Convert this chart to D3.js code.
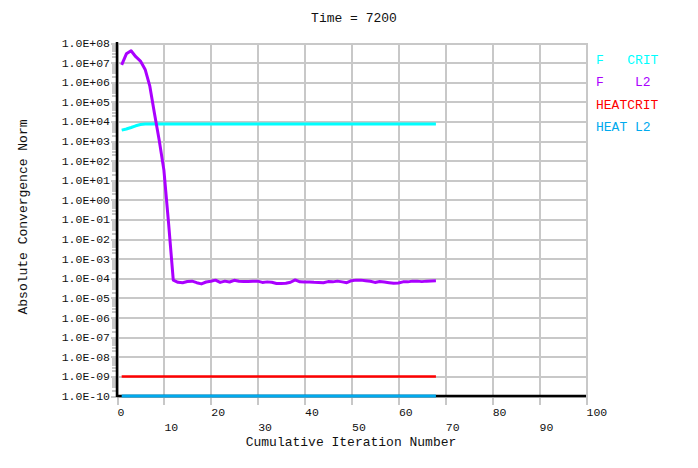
<!DOCTYPE html>
<html>
<head>
<meta charset="utf-8">
<script src="https://cdn.jsdelivr.net/npm/d3@7"></script>
<style>
  body { margin: 0; background: #fff; }
  svg { display: block; }
  text { font-family: "Liberation Mono", "DejaVu Sans Mono", monospace; fill: #111; }
</style>
</head>
<body>
<svg id="chart" width="698" height="468"></svg>
<script>
// values (iteration 1..68)
const fL2 = [
  7.6e6, 2.8e7, 4.0e7, 2.0e7, 1.2e7, 4.5e6, 6.3e5, 2.5e4, 1.1e3, 33,
  6.3e-2, 8.1e-5, 6.3e-5, 6.0e-5, 6.9e-5, 7.2e-5, 6.0e-5, 5.2e-5, 6.5e-5, 7.1e-5,
  8.1e-5, 6.2e-5, 7.2e-5, 6.5e-5, 7.9e-5, 7.1e-5, 6.8e-5, 6.9e-5, 7.1e-5, 7.2e-5,
  6.2e-5, 6.6e-5, 6.3e-5, 5.5e-5, 5.5e-5, 5.6e-5, 6.3e-5, 8.3e-5, 6.6e-5, 6.5e-5,
  6.5e-5, 6.3e-5, 6.2e-5, 6.0e-5, 6.8e-5, 6.6e-5, 7.2e-5, 6.6e-5, 6.0e-5, 7.6e-5,
  8.1e-5, 8.1e-5, 7.6e-5, 7.1e-5, 6.2e-5, 6.9e-5, 6.5e-5, 6.0e-5, 5.6e-5, 5.8e-5,
  6.6e-5, 6.6e-5, 7.2e-5, 7.2e-5, 6.8e-5, 7.2e-5, 7.4e-5, 7.6e-5
];
const fCrit = [
  3.6e3, 4.1e3, 4.9e3, 6.0e3, 7.0e3, 7.4e3, 7.4e3, 7.4e3, 7.4e3, 7.4e3,
  7.4e3, 7.4e3, 7.4e3, 7.4e3, 7.4e3, 7.4e3, 7.4e3, 7.4e3, 7.4e3, 7.4e3,
  7.4e3, 7.4e3, 7.4e3, 7.4e3, 7.4e3, 7.4e3, 7.4e3, 7.4e3, 7.4e3, 7.4e3,
  7.4e3, 7.4e3, 7.4e3, 7.4e3, 7.4e3, 7.4e3, 7.4e3, 7.4e3, 7.4e3, 7.4e3,
  7.4e3, 7.4e3, 7.4e3, 7.4e3, 7.4e3, 7.4e3, 7.4e3, 7.4e3, 7.4e3, 7.4e3,
  7.4e3, 7.4e3, 7.4e3, 7.4e3, 7.4e3, 7.4e3, 7.4e3, 7.4e3, 7.4e3, 7.4e3,
  7.4e3, 7.4e3, 7.4e3, 7.4e3, 7.4e3, 7.4e3, 7.4e3, 7.4e3
];
const heatCrit = [
  1e-9, 1e-9, 1e-9, 1e-9, 1e-9, 1e-9, 1e-9, 1e-9, 1e-9, 1e-9,
  1e-9, 1e-9, 1e-9, 1e-9, 1e-9, 1e-9, 1e-9, 1e-9, 1e-9, 1e-9,
  1e-9, 1e-9, 1e-9, 1e-9, 1e-9, 1e-9, 1e-9, 1e-9, 1e-9, 1e-9,
  1e-9, 1e-9, 1e-9, 1e-9, 1e-9, 1e-9, 1e-9, 1e-9, 1e-9, 1e-9,
  1e-9, 1e-9, 1e-9, 1e-9, 1e-9, 1e-9, 1e-9, 1e-9, 1e-9, 1e-9,
  1e-9, 1e-9, 1e-9, 1e-9, 1e-9, 1e-9, 1e-9, 1e-9, 1e-9, 1e-9,
  1e-9, 1e-9, 1e-9, 1e-9, 1e-9, 1e-9, 1e-9, 1e-9
];
const heatL2 = [
  1e-10, 1e-10, 1e-10, 1e-10, 1e-10, 1e-10, 1e-10, 1e-10, 1e-10, 1e-10,
  1e-10, 1e-10, 1e-10, 1e-10, 1e-10, 1e-10, 1e-10, 1e-10, 1e-10, 1e-10,
  1e-10, 1e-10, 1e-10, 1e-10, 1e-10, 1e-10, 1e-10, 1e-10, 1e-10, 1e-10,
  1e-10, 1e-10, 1e-10, 1e-10, 1e-10, 1e-10, 1e-10, 1e-10, 1e-10, 1e-10,
  1e-10, 1e-10, 1e-10, 1e-10, 1e-10, 1e-10, 1e-10, 1e-10, 1e-10, 1e-10,
  1e-10, 1e-10, 1e-10, 1e-10, 1e-10, 1e-10, 1e-10, 1e-10, 1e-10, 1e-10,
  1e-10, 1e-10, 1e-10, 1e-10, 1e-10, 1e-10, 1e-10, 1e-10
];

const seriesNames = ["F   CRIT", "F    L2", "HEATCRIT", "HEAT L2"];
const seriesColors = ["#00ffff", "#aa00ff", "#ff0000", "#00aaee"];
const xTicks = [0, 10, 20, 30, 40, 50, 60, 70, 80, 90, 100];
const yExponents = [-10, -9, -8, -7, -6, -5, -4, -3, -2, -1, 0, 1, 2, 3, 4, 5, 6, 7, 8];

const pLeft = 117, pRight = 586, pTop = 43, pBottom = 396;
const svg = d3.select("#chart");

const x = d3.scaleLinear().domain([0, 100]).range([pLeft, pRight]);
const y = d3.scaleLog().domain([1e-10, 1e8]).range([pBottom, pTop]);

const majors = yExponents.map(e => Math.pow(10, e));
const minors = [];
yExponents.slice(0, -1).forEach(e => {
  for (let m = 2; m <= 9; m++) minors.push(m * Math.pow(10, e));
});

const fmt = v => {
  const e = Math.round(Math.log10(v));
  return "1.0E" + (e < 0 ? "-" : "+") + String(Math.abs(e)).padStart(2, "0");
};

// grid lines
const grid = svg.append("g").attr("shape-rendering", "crispEdges");
grid.append("g")
  .attr("transform", `translate(${pLeft},0)`)
  .call(d3.axisLeft(y).tickValues(majors).tickSize(-(pRight - pLeft)).tickFormat(""))
  .call(g => g.select(".domain").remove())
  .call(g => g.selectAll("line").attr("x1", -6).attr("stroke", "#c8c8c8").attr("stroke-width", 2));
grid.append("g")
  .attr("transform", `translate(${pLeft},0)`)
  .call(d3.axisLeft(y).tickValues(minors).tickSize(5).tickFormat(""))
  .call(g => g.select(".domain").remove())
  .call(g => g.selectAll("line").attr("stroke", "#c8c8c8").attr("stroke-width", 2));
grid.append("g")
  .attr("transform", `translate(0,${pBottom})`)
  .call(d3.axisBottom(x).tickValues(xTicks).tickSize(-(pBottom - pTop)).tickFormat(""))
  .call(g => g.select(".domain").remove())
  .call(g => g.selectAll("line").attr("y1", 9).attr("stroke", "#c8c8c8").attr("stroke-width", 2));

// y labels
svg.append("g")
  .attr("transform", `translate(${pLeft},0)`)
  .call(d3.axisLeft(y).tickValues(majors).tickSize(0).tickPadding(7).tickFormat(fmt))
  .call(g => g.select(".domain").remove())
  .call(g => g.selectAll("text")
    .style("font-family", '"Liberation Mono", monospace')
    .style("font-size", "11.5px").attr("fill", "#111").attr("dy", "0.3em"));

// x labels (staggered)
svg.append("g")
  .attr("transform", `translate(0,${pBottom})`)
  .call(d3.axisBottom(x).tickValues(xTicks).tickSize(0).tickFormat(d3.format("d")))
  .call(g => g.select(".domain").remove())
  .call(g => g.selectAll("text")
    .style("font-family", '"Liberation Mono", monospace')
    .style("font-size", "11.5px").attr("fill", "#111")
    .attr("text-anchor", "start")
    .attr("dy", "0.35em")
    .attr("y", d => (d / 10) % 2 === 0 ? 16 : 31));

// black axes
svg.append("line").attr("x1", pLeft).attr("x2", pLeft).attr("y1", pTop - 1).attr("y2", pBottom + 1)
  .attr("stroke", "#000").attr("stroke-width", 2.5);
svg.append("line").attr("x1", pLeft).attr("x2", pRight).attr("y1", pBottom).attr("y2", pBottom)
  .attr("stroke", "#000").attr("stroke-width", 2.5);

// series
const series = [fCrit, fL2, heatCrit, heatL2];
const widths = [3, 3, 2.5, 3];
const line = d3.line().x((d, i) => x(i + 1)).y(d => y(d));
const drawOrder = [2, 3, 0, 1];
drawOrder.forEach(k => {
  svg.append("path")
    .datum(series[k])
    .attr("d", line)
    .attr("fill", "none")
    .attr("stroke", seriesColors[k])
    .attr("stroke-width", widths[k])
    .attr("stroke-linejoin", "round");
});

// legend
svg.append("g").selectAll("text")
  .data(seriesNames)
  .join("text")
  .attr("x", 596)
  .attr("y", (d, i) => 59 + i * 22.6)
  .attr("dy", "0.35em")
  .attr("xml:space", "preserve")
  .style("white-space", "pre")
  .style("font-size", "13px")
  .style("fill", (d, i) => seriesColors[i])
  .text(d => d);

// titles
svg.append("text").attr("x", 354).attr("y", 17.5).attr("dy", "0.35em")
  .attr("text-anchor", "middle").style("font-size", "13px").text("Time = 7200");
svg.append("text").attr("x", 351).attr("y", 441).attr("dy", "0.35em")
  .attr("text-anchor", "middle").style("font-size", "13px").text("Cumulative Iteration Number");
svg.append("text").attr("transform", "translate(22,217) rotate(-90)").attr("dy", "0.35em")
  .attr("text-anchor", "middle").style("font-size", "13px").text("Absolute Convergence Norm");
</script>
</body>
</html>
